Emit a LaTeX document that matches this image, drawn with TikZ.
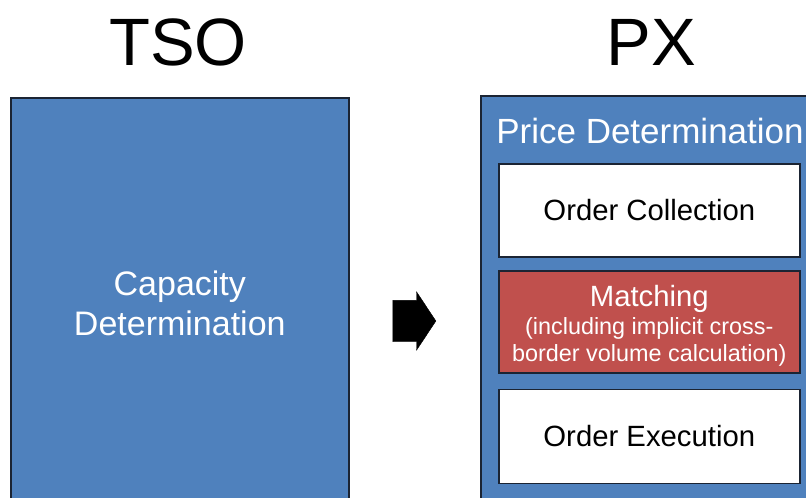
\documentclass[tikz,border=0pt]{standalone}
\usepackage{fontspec}
\setmainfont{Liberation Sans}
\usetikzlibrary{positioning, shapes.arrows}
\definecolor{panelblue}{HTML}{4F81BD}
\definecolor{matchred}{HTML}{C0504D}
\definecolor{edgedark}{HTML}{1B2433}

\begin{document}
\begin{tikzpicture}[
        x = 1pt, y = -1pt,
        node distance = 12.5pt and 0pt,
        title/.style = {anchor=base, font=\fontsize{67}{70}\selectfont},
        panel/.style = {draw=edgedark, line width=1.6pt, fill=panelblue, anchor=north west, minimum height=412pt, text=white},
        stage/.style = {draw=edgedark, line width=1.6pt, fill=white, minimum width=301pt, minimum height=93pt, inner sep=0, align=center, font=\fontsize{29.3}{34}\selectfont},
        flow/.style = {single arrow, fill=black, draw=black, inner xsep=0, inner ysep=20.5pt, minimum height=43pt, single arrow head extend=8.5pt, single arrow tip angle=113},
    ]
        \clip (0,0) rectangle (806,498);
        % headings
        \node[title] (tsotitle) at (178,65) {TSO};
        \node[title] (pxtitle) at (651,65) {PX};
        % TSO side
        \node[panel, minimum width=338pt, align=center, font=\fontsize{34}{40}\selectfont] (tso) at (10,97) {Capacity\\Determination};
        % PX side
        \node[panel, minimum width=345pt] (px) at (480,95) {};
        \node[anchor=base, text=white, font=\fontsize{35}{40}\selectfont] (pricedet) at (650,143) {Price Determination};
        \node[stage, anchor=north west] (collect) at (498,163) {Order Collection};
        \node[stage, below=of collect, minimum height=102pt, fill=matchred, text=white, font=\fontsize{23.4}{27}\selectfont] (match)
            {{\fontsize{29.3}{30}\selectfont\rule{0pt}{30pt}Matching}\\[1pt](including implicit cross-\\border volume calculation)};
        \node[stage, below=15pt of match, minimum height=94pt] (execute) {Order Execution};
        % hand-over
        \node[flow] (handover) at (407.5,321) {};
    \end{tikzpicture}
\end{document}
